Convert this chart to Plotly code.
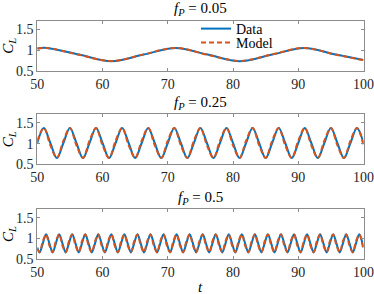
import plotly.graph_objects as go
from plotly.subplots import make_subplots

# ---------------- data ----------------
panel_titles = ["<i>f</i><sub><i>P</i></sub> = 0.05",
                "<i>f</i><sub><i>P</i></sub> = 0.25",
                "<i>f</i><sub><i>P</i></sub> = 0.5"]
x_ticks = [50, 60, 70, 80, 90, 100]
y_ticks = [0.5, 1, 1.5]
y_tick_labels = ["0.5", "1", "1.5"]

# f_P = 0.05
t1 = [50, 51.5, 56.4, 61.35, 66.3, 71.2, 76.1, 81.05, 86.0, 90.9, 95.8, 100]
data1 = [1.04, 1.05, 0.89, 0.73, 0.89, 1.05, 0.89, 0.73, 0.89, 1.05, 0.89, 0.76]
model1 = [1.035, 1.05, 0.885, 0.735, 0.895, 1.05, 0.885, 0.735, 0.895, 1.05, 0.885, 0.755]

# f_P = 0.25
t2 = [50, 51, 52, 53, 54, 55, 56, 57, 58, 59, 60, 61, 62, 63, 64, 65, 66,
      67, 68, 69, 70, 71, 72, 73, 74, 75, 76, 77, 78, 79, 80, 81, 82, 83,
      84, 85, 86, 87, 88, 89, 90, 91, 92, 93, 94, 95, 96, 97, 98, 99, 100]
data2 = [1.015, 1.38, 1.015, 0.65, 1.015, 1.38, 1.015, 0.65, 1.015, 1.38,
         1.015, 0.65, 1.015, 1.38, 1.015, 0.65, 1.015, 1.38, 1.015, 0.65,
         1.015, 1.38, 1.015, 0.65, 1.015, 1.38, 1.015, 0.65, 1.015, 1.38,
         1.015, 0.65, 1.015, 1.38, 1.015, 0.65, 1.015, 1.38, 1.015, 0.65,
         1.015, 1.38, 1.015, 0.65, 1.015, 1.38, 1.015, 0.65, 1.015, 1.38,
         1.015]
model2 = [1.07, 1.38, 0.96, 0.655, 1.07, 1.38, 0.96, 0.655, 1.07, 1.38,
          0.96, 0.655, 1.07, 1.38, 0.96, 0.655, 1.07, 1.38, 0.96, 0.655,
          1.07, 1.38, 0.96, 0.655, 1.07, 1.38, 0.96, 0.655, 1.07, 1.38,
          0.96, 0.655, 1.07, 1.38, 0.96, 0.655, 1.07, 1.38, 0.96, 0.655,
          1.07, 1.38, 0.96, 0.655, 1.07, 1.38, 0.96, 0.655, 1.07, 1.38,
          0.96]

# f_P = 0.5
t3 = [50, 50.35, 50.85, 51.35, 51.85, 52.35, 52.85, 53.35, 53.85, 54.35, 54.85,
      55.35, 55.85, 56.35, 56.85, 57.35, 57.85, 58.35, 58.85, 59.35, 59.85,
      60.35, 60.85, 61.35, 61.85, 62.35, 62.85, 63.35, 63.85, 64.35, 64.85,
      65.35, 65.85, 66.35, 66.85, 67.35, 67.85, 68.35, 68.85, 69.35, 69.85,
      70.35, 70.85, 71.35, 71.85, 72.35, 72.85, 73.35, 73.85, 74.35, 74.85,
      75.35, 75.85, 76.35, 76.85, 77.35, 77.85, 78.35, 78.85, 79.35, 79.85,
      80.35, 80.85, 81.35, 81.85, 82.35, 82.85, 83.35, 83.85, 84.35, 84.85,
      85.35, 85.85, 86.35, 86.85, 87.35, 87.85, 88.35, 88.85, 89.35, 89.85,
      90.35, 90.85, 91.35, 91.85, 92.35, 92.85, 93.35, 93.85, 94.35, 94.85,
      95.35, 95.85, 96.35, 96.85, 97.35, 97.85, 98.35, 98.85, 99.35, 99.85,
      100]
data3 = [0.78, 0.66, 0.88, 1.10, 0.88, 0.66, 0.88, 1.10, 0.88, 0.66, 0.88,
         1.10, 0.88, 0.66, 0.88, 1.10, 0.88, 0.66, 0.88, 1.10, 0.88,
         0.66, 0.88, 1.10, 0.88, 0.66, 0.88, 1.10, 0.88, 0.66, 0.88,
         1.10, 0.88, 0.66, 0.88, 1.10, 0.88, 0.66, 0.88, 1.10, 0.88,
         0.66, 0.88, 1.10, 0.88, 0.66, 0.88, 1.10, 0.88, 0.66, 0.88,
         1.10, 0.88, 0.66, 0.88, 1.10, 0.88, 0.66, 0.88, 1.10, 0.88,
         0.66, 0.88, 1.10, 0.88, 0.66, 0.88, 1.10, 0.88, 0.66, 0.88,
         1.10, 0.88, 0.66, 0.88, 1.10, 0.88, 0.66, 0.88, 1.10, 0.88,
         0.66, 0.88, 1.10, 0.88, 0.66, 0.88, 1.10, 0.88, 0.66, 0.88,
         1.10, 0.88, 0.66, 0.88, 1.10, 0.88, 0.66, 0.88, 1.10, 0.88,
         0.78]
model3 = [0.74, 0.665, 0.93, 1.095, 0.83, 0.665, 0.93, 1.095, 0.83, 0.665, 0.93,
          1.095, 0.83, 0.665, 0.93, 1.095, 0.83, 0.665, 0.93, 1.095, 0.83,
          0.665, 0.93, 1.095, 0.83, 0.665, 0.93, 1.095, 0.83, 0.665, 0.93,
          1.095, 0.83, 0.665, 0.93, 1.095, 0.83, 0.665, 0.93, 1.095, 0.83,
          0.665, 0.93, 1.095, 0.83, 0.665, 0.93, 1.095, 0.83, 0.665, 0.93,
          1.095, 0.83, 0.665, 0.93, 1.095, 0.83, 0.665, 0.93, 1.095, 0.83,
          0.665, 0.93, 1.095, 0.83, 0.665, 0.93, 1.095, 0.83, 0.665, 0.93,
          1.095, 0.83, 0.665, 0.93, 1.095, 0.83, 0.665, 0.93, 1.095, 0.83,
          0.665, 0.93, 1.095, 0.83, 0.665, 0.93, 1.095, 0.83, 0.665, 0.93,
          1.095, 0.83, 0.665, 0.93, 1.095, 0.83, 0.665, 0.93, 1.095, 0.83,
          0.73]

panels = [(t1, data1, model1), (t2, data2, model2), (t3, data3, model3)]

# ---------------- styling ----------------
BLUE = "#0072BD"
ORANGE = "#D95319"
FONT = "Liberation Serif"
W, H = 374, 294
x_dom = [37.3 / W, 363.5 / W]
y_px = [(20.7, 70.7), (114.3, 164.3), (209.0, 259.0)]
title_y_px = [9, 103, 198]

fig = make_subplots(rows=3, cols=1)

for i, (t, d, m) in enumerate(panels):
    r = i + 1
    fig.add_trace(go.Scatter(x=t, y=d, mode="lines", name="Data", legend="legend",
                             line=dict(color=BLUE, width=2, shape="spline", smoothing=1.0),
                             showlegend=(i == 0)), row=r, col=1)
    fig.add_trace(go.Scatter(x=t, y=m, mode="lines", name="Model", legend="legend2",
                             line=dict(color=ORANGE, width=2, dash="5px,3px",
                                       shape="spline", smoothing=1.0),
                             showlegend=(i == 0)), row=r, col=1)

axis_common = dict(showline=True, linecolor="#8c8c8c", linewidth=1, mirror="ticks",
                   ticks="inside", ticklen=3, tickcolor="#8c8c8c", showgrid=False,
                   zeroline=False, tickfont=dict(family=FONT, size=14, color="#262626"))

layout_axes = {}
for i in range(3):
    suffix = "" if i == 0 else str(i + 1)
    top, bot = y_px[i]
    layout_axes["xaxis" + suffix] = dict(domain=x_dom, range=[50, 100],
                                         tickvals=x_ticks, **axis_common)
    layout_axes["yaxis" + suffix] = dict(domain=[1 - bot / H, 1 - top / H],
                                         range=[0.5, 1.71], tickvals=y_ticks,
                                         ticktext=y_tick_labels, **axis_common)

annotations = []
for i in range(3):
    annotations.append(dict(text=panel_titles[i], xref="paper", yref="paper",
                            x=(x_dom[0] + x_dom[1]) / 2, y=1 - title_y_px[i] / H,
                            xanchor="center", yanchor="middle", showarrow=False,
                            font=dict(family=FONT, size=15, color="#000000")))
    top, bot = y_px[i]
    annotations.append(dict(text="<i>C</i><sub><i>L</i></sub>", xref="paper", yref="paper",
                            x=9 / W, y=1 - ((top + bot) / 2) / H, textangle=-90,
                            xanchor="center", yanchor="middle", showarrow=False,
                            font=dict(family=FONT, size=15, color="#000000")))
annotations.append(dict(text="<i>t</i>", xref="paper", yref="paper",
                        x=(x_dom[0] + x_dom[1]) / 2, y=1 - 287 / H,
                        xanchor="center", yanchor="middle", showarrow=False,
                        font=dict(family=FONT, size=15, color="#000000")))

legend_common = dict(xanchor="left", yanchor="middle", bgcolor="rgba(0,0,0,0)",
                     borderwidth=0, font=dict(family=FONT, size=14, color="#000000"))

fig.update_layout(
    width=W, height=H,
    margin=dict(l=0, r=0, t=0, b=0, autoexpand=False),
    paper_bgcolor="white", plot_bgcolor="white",
    font=dict(family=FONT),
    annotations=annotations,
    legend=dict(x=196 / W, y=1 - 29 / H, **legend_common),
    legend2=dict(x=196 / W, y=1 - 43 / H, **legend_common),
    **layout_axes,
)

fig.write_html("out.html", config={"displayModeBar": False},
               post_script="document.body.style.margin='0';document.body.style.padding='0';")
